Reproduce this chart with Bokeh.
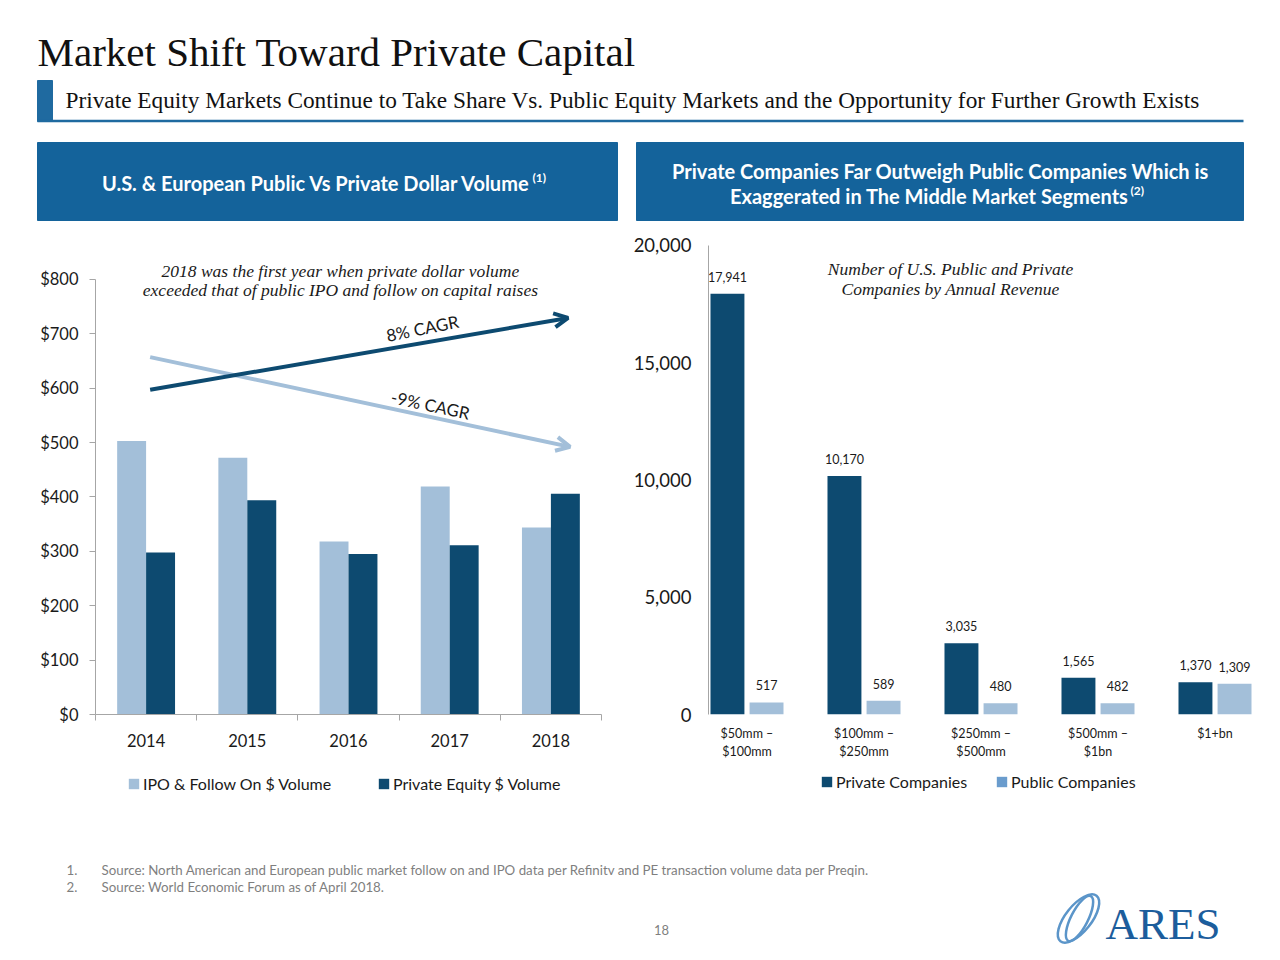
from bokeh.plotting import figure
from bokeh.layouts import column, row
from bokeh.models import (Range1d, FixedTicker, NumeralTickFormatter, Legend, LegendItem,
                          Arrow, OpenHead, ColumnDataSource)
from bokeh.embed import file_html
from bokeh.resources import INLINE
from bokeh.core.properties import value

# ---------------- data ----------------
years = ["2014", "2015", "2016", "2017", "2018"]
ipo_volume = [503, 472, 318, 419, 344]          # IPO & Follow On $ Volume ($bn)
pe_volume = [298, 394, 295, 311, 406]           # Private Equity $ Volume ($bn)
left_y_ticks = [0, 100, 200, 300, 400, 500, 600, 700, 800]

segments = ["$50mm –\n$100mm", "$100mm –\n$250mm", "$250mm –\n$500mm", "$500mm –\n$1bn", "$1+bn"]
private_companies = [17941, 10170, 3035, 1565, 1370]
public_companies = [517, 589, 480, 482, 1309]
right_y_ticks = [0, 5000, 10000, 15000, 20000]

# trend arrows: (x_start, y_start, x_end, y_end) in year-index / $bn units
pe_trend = (0.04, 597, 4.17, 729)
ipo_trend = (0.04, 657, 4.19, 492)

# ---------------- styles ----------------
DARK = "#0D4A70"
LIGHT = "#A3BFD9"
MID = "#6A9CCD"
BOX = "#14639B"
ACCENT = "#1F6AA0"
AXIS = "#A6A6A6"
SANS = "Lato"
SERIF = "Liberation Serif"
PAGE_W = 1272


def clean(p):
    p.outline_line_color = None
    p.background_fill_color = "white"
    p.border_fill_color = "white"
    p.grid.grid_line_color = None
    return p


# ---------------- header ----------------
top = figure(width=PAGE_W, height=233, x_range=Range1d(0, PAGE_W), y_range=Range1d(233, 0),
             x_axis_type=None, y_axis_type=None, output_backend="svg", toolbar_location=None,
             min_border=0)
clean(top)
top.text(x=[37], y=[51], text=["Market Shift Toward Private Capital"], text_font=value(SERIF),
         text_font_size="41px", text_baseline="middle", text_color="#111111")
top.quad(left=[37], right=[52], top=[80], bottom=[121], color=ACCENT)
top.segment(x0=[37], y0=[120.5], x1=[1243], y1=[120.5], line_color=ACCENT, line_width=2.5)
top.text(x=[65], y=[99],
         text=["Private Equity Markets Continue to Take Share Vs. Public Equity Markets and the Opportunity for Further Growth Exists"],
         text_font=value(SERIF), text_font_size="23.3px", text_baseline="middle", text_color="#111111")
top.quad(left=[37, 636], right=[617, 1243], top=[142, 142], bottom=[220, 220], color=BOX)
top.text(x=[530], y=[182], text=["U.S. & European Public Vs Private Dollar Volume"], text_font=value(SANS),
         text_font_style="bold", text_font_size="20px", text_align="right", text_baseline="middle",
         text_color="white")
top.text(x=[532], y=[177], text=["(1)"], text_font=value(SANS), text_font_style="bold",
         text_font_size="12px", text_baseline="middle", text_color="white")
top.text(x=[940], y=[170], text=["Private Companies Far Outweigh Public Companies Which is"],
         text_font=value(SANS), text_font_style="bold", text_font_size="20px", text_align="center",
         text_baseline="middle", text_color="white")
top.text(x=[1128], y=[195], text=["Exaggerated in The Middle Market Segments"], text_font=value(SANS),
         text_font_style="bold", text_font_size="20px", text_align="right", text_baseline="middle",
         text_color="white")
top.text(x=[1130], y=[190], text=["(2)"], text_font=value(SANS), text_font_style="bold",
         text_font_size="12px", text_baseline="middle", text_color="white")

# ---------------- left chart ----------------
n = len(years)
centers = list(range(n))
L = figure(width=630, height=532, x_range=Range1d(-0.5, n - 0.5), y_range=Range1d(0, 871.4),
           output_backend="svg", toolbar_location=None, min_border_left=95, min_border_right=29,
           min_border_top=7, min_border_bottom=49)
clean(L)
L.vbar(x=[c - 0.143 for c in centers], top=ipo_volume, width=0.286, fill_color=LIGHT, line_color=None)
L.vbar(x=[c + 0.143 for c in centers], top=pe_volume, width=0.286, fill_color=DARK, line_color=None)

L.yaxis.ticker = FixedTicker(ticks=left_y_ticks)
L.yaxis.formatter = NumeralTickFormatter(format="$0")
L.yaxis.bounds = (0, 800)
L.yaxis.axis_line_color = AXIS
L.yaxis.major_tick_line_color = AXIS
L.yaxis.major_tick_out = 6
L.yaxis.major_tick_in = 0
L.yaxis.minor_tick_line_color = None
L.yaxis.major_label_standoff = 11
L.yaxis.major_label_text_font = SANS
L.yaxis.major_label_text_font_size = "16.5px"
L.yaxis.major_label_text_color = "#1a1a1a"

L.xaxis.ticker = FixedTicker(ticks=centers, minor_ticks=[c - 0.5 for c in centers] + [n - 0.5])
L.xaxis.major_label_overrides = {i: years[i] for i in centers}
L.xaxis.axis_line_color = AXIS
L.xaxis.major_tick_line_color = None
L.xaxis.minor_tick_line_color = AXIS
L.xaxis.minor_tick_out = 6
L.xaxis.minor_tick_in = 0
L.xaxis.major_tick_out = 6
L.xaxis.major_label_standoff = 13
L.xaxis.major_label_text_font = SANS
L.xaxis.major_label_text_font_size = "16.5px"
L.xaxis.major_label_text_color = "#1a1a1a"

L.add_layout(Arrow(end=OpenHead(size=14, line_width=4, line_color=LIGHT),
                   x_start=ipo_trend[0], y_start=ipo_trend[1], x_end=ipo_trend[2], y_end=ipo_trend[3],
                   line_width=4, line_color=LIGHT))
L.add_layout(Arrow(end=OpenHead(size=14, line_width=4, line_color=DARK),
                   x_start=pe_trend[0], y_start=pe_trend[1], x_end=pe_trend[2], y_end=pe_trend[3],
                   line_width=4, line_color=DARK))
L.text(x=[2.73], y=[710], text=["8% CAGR"], angle=0.2, text_font=value(SANS), text_font_size="17px",
       text_align="center", text_baseline="middle", text_color="#1a1a1a")
L.text(x=[2.81], y=[569], text=["-9% CAGR"], angle=-0.21, text_font=value(SANS), text_font_size="17px",
       text_align="center", text_baseline="middle", text_color="#1a1a1a")
L.text(x=[1.92, 1.92], y=[816, 780],
       text=["2018 was the first year when private dollar volume",
             "exceeded that of public IPO and follow on capital raises"],
       text_font=value(SERIF), text_font_style="italic", text_font_size="17.5px",
       text_align="center", text_baseline="middle", text_color="#1a1a1a")

# ---------------- right chart ----------------
m = len(segments)
gx = list(range(m))
R = figure(width=642, height=532, x_range=Range1d(-0.329, 4.406), y_range=Range1d(0, 20213),
           output_backend="svg", toolbar_location=None, min_border_left=78, min_border_right=10,
           min_border_top=7, min_border_bottom=51)
clean(R)
src_priv = ColumnDataSource(dict(x=[g - 0.167 for g in gx], top=private_companies,
                                 lab=[f"{v:,}" for v in private_companies]))
src_pub = ColumnDataSource(dict(x=[g + 0.167 for g in gx], top=public_companies,
                                lab=[f"{v:,}" for v in public_companies]))
R.vbar(x="x", top="top", width=0.29, source=src_priv, fill_color=DARK, line_color=None)
R.vbar(x="x", top="top", width=0.29, source=src_pub, fill_color=LIGHT, line_color=None)
for s in (src_priv, src_pub):
    R.text(x="x", y="top", text="lab", source=s, text_font=value(SANS), text_font_size="12.5px",
           text_align="center", text_baseline="bottom", y_offset=-12, text_color="#1a1a1a")

R.yaxis.ticker = FixedTicker(ticks=right_y_ticks)
R.yaxis.formatter = NumeralTickFormatter(format="0,0")
R.yaxis.bounds = (0, 20000)
R.yaxis.axis_line_color = AXIS
R.yaxis.major_tick_line_color = None
R.yaxis.minor_tick_line_color = None
R.yaxis.major_tick_out = 0
R.yaxis.major_label_standoff = 17
R.yaxis.major_label_text_font = SANS
R.yaxis.major_label_text_font_size = "18.5px"
R.yaxis.major_label_text_color = "#1a1a1a"

R.xaxis.ticker = FixedTicker(ticks=gx)
R.xaxis.major_label_overrides = {i: segments[i] for i in gx}
R.xaxis.axis_line_color = None
R.xaxis.major_tick_line_color = None
R.xaxis.minor_tick_line_color = None
R.xaxis.major_tick_out = 0
R.xaxis.minor_tick_out = 0
R.xaxis.major_label_standoff = 11
R.xaxis.major_label_text_font = SANS
R.xaxis.major_label_text_font_size = "12.5px"
R.xaxis.major_label_text_color = "#1a1a1a"

R.text(x=[1.74, 1.74], y=[18977, 18166],
       text=["Number of U.S. Public and Private", "Companies by Annual Revenue"],
       text_font=value(SERIF), text_font_style="italic", text_font_size="17.5px",
       text_align="center", text_baseline="middle", text_color="#1a1a1a")

# ---------------- footer (legends, notes, logo) ----------------
FOOT_TOP, FOOT_BOT = 765, 952
bot = figure(width=PAGE_W, height=FOOT_BOT - FOOT_TOP, x_range=Range1d(0, PAGE_W),
             y_range=Range1d(FOOT_BOT, FOOT_TOP), x_axis_type=None, y_axis_type=None,
             output_backend="svg", toolbar_location=None, min_border=0)
clean(bot)

legend_specs = [("IPO & Follow On $ Volume", LIGHT, 127, 783),
                ("Private Equity $ Volume", DARK, 377, 783),
                ("Private Companies", DARK, 820, 781),
                ("Public Companies", MID, 995, 781)]
for label, color, lx, ly in legend_specs:
    # zero-height swatch carrier (draws nothing itself, only supplies the legend colour)
    rr = bot.vbar(x=[0], top=[0], bottom=[0], width=0, fill_color=color, line_color=None)
    lg = Legend(items=[LegendItem(label=label, renderers=[rr])], location=(lx, FOOT_BOT - ly - 10),
                padding=0, margin=0, glyph_width=13, glyph_height=13, label_height=20,
                label_standoff=3, label_text_font=SANS, label_text_font_size="16px",
                label_text_color="#1a1a1a", border_line_color=None, background_fill_alpha=0)
    bot.add_layout(lg)

bot.text(x=[66, 66], y=[869, 886], text=["1.", "2."], text_font=value(SANS), text_font_size="13.3px",
         text_baseline="middle", text_color="#7F7F7F")
bot.text(x=[101, 101], y=[869, 886],
         text=["Source: North American and European public market follow on and IPO data per Refinitv and PE transaction volume data per Preqin.",
               "Source: World Economic Forum as of April 2018."],
         text_font=value(SANS), text_font_size="13.3px", text_baseline="middle", text_color="#7F7F7F")
bot.text(x=[661], y=[929], text=["18"], text_font=value(SANS), text_font_size="13px",
         text_align="center", text_baseline="middle", text_color="#7F7F7F")
bot.ellipse(x=[1078, 1079], y=[918, 918], width=[58, 50], height=[26, 17], angle=[0.9, 1.1],
            fill_color=None, line_color="#5B95C9", line_width=2.5)
bot.text(x=[1105], y=[923], text=["ARES"], text_font=value(SERIF), text_font_size="45px",
         text_baseline="middle", text_color="#1C5D9C")

layout = column(top, row(L, R), bot)
open("out.html", "w").write(file_html(layout, INLINE))
